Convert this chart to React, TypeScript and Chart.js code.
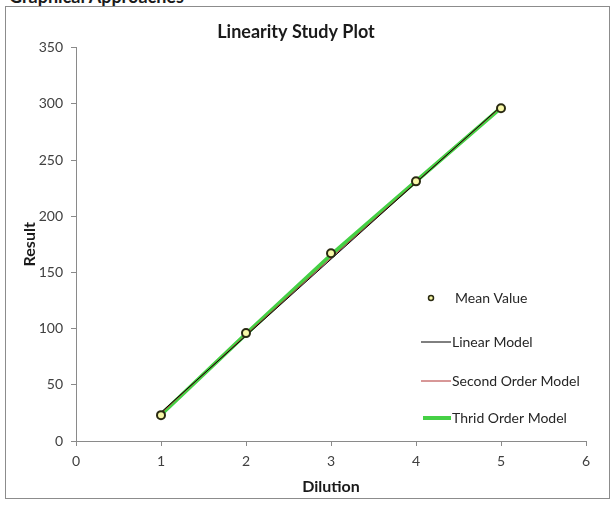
import React, { useEffect, useRef } from "react";
import { Chart, registerables } from "chart.js";

Chart.register(...registerables);

// Dilution levels and measured mean results
const dilution = [1, 2, 3, 4, 5];
const meanValue = [23, 96, 167, 231, 296];

// Fitted model curves evaluated at each dilution level
const linearModel = [25.5, 93.6, 161.7, 229.8, 297.9];
const secondOrderModel = [24.6, 94.4, 162.8, 230.2, 297.3];
const thirdOrderModel = [23.5, 95.2, 165.6, 231.0, 296.4];

const xTicks = [0, 1, 2, 3, 4, 5, 6];
const yTicks = [0, 50, 100, 150, 200, 250, 300, 350];

const legendItems = ["Mean Value", "Linear Model", "Second Order Model", "Thrid Order Model"];

const FONT = "Lato, 'Open Sans', sans-serif";
const GREEN = "#45d045";
const POINT_FILL = "#f8f8a8";
const POINT_EDGE = "#2a2a12";

const toPoints = (ys: number[]) => dilution.map((x, i) => ({ x, y: ys[i] }));

// Legend drawn inside the plot area, right side
const insideLegend = {
  id: "insideLegend",
  afterDraw(chart: Chart) {
    const ctx = chart.ctx;
    const left = 415;
    const rows = [291, 335, 374, 411];
    ctx.save();
    ctx.font = `14px ${FONT}`;
    ctx.textBaseline = "middle";
    ctx.textAlign = "left";
    rows.forEach((y, i) => {
      if (i === 0) {
        ctx.beginPath();
        ctx.arc(left + 10, y, 2.5, 0, Math.PI * 2);
        ctx.fillStyle = POINT_FILL;
        ctx.fill();
        ctx.lineWidth = 1.5;
        ctx.strokeStyle = POINT_EDGE;
        ctx.stroke();
      } else {
        ctx.beginPath();
        ctx.moveTo(left + (i === 3 ? 2 : 0), y);
        ctx.lineTo(left + 30, y);
        ctx.lineWidth = i === 3 ? 4 : 1;
        ctx.strokeStyle = i === 1 ? "#000000" : i === 2 ? "#b03030" : GREEN;
        ctx.stroke();
      }
      ctx.fillStyle = "#262626";
      ctx.fillText(legendItems[i], i === 0 ? left + 34 : left + 31, y);
    });
    ctx.restore();
  },
};

export default function App() {
  const canvasRef = useRef<HTMLCanvasElement | null>(null);

  useEffect(() => {
    if (!canvasRef.current) return;
    const chart = new Chart(canvasRef.current, {
      type: "scatter",
      data: {
        datasets: [
          {
            label: legendItems[0],
            data: toPoints(meanValue),
            backgroundColor: POINT_FILL,
            borderColor: POINT_EDGE,
            borderWidth: 2,
            pointRadius: 4,
            showLine: false,
          },
          {
            label: legendItems[1],
            data: toPoints(linearModel),
            borderColor: "#000000",
            borderWidth: 1,
            pointRadius: 0,
            showLine: true,
          },
          {
            label: legendItems[2],
            data: toPoints(secondOrderModel),
            borderColor: "#b03030",
            borderWidth: 1,
            pointRadius: 0,
            showLine: true,
          },
          {
            label: legendItems[3],
            data: toPoints(thirdOrderModel),
            borderColor: GREEN,
            borderWidth: 4,
            pointRadius: 0,
            showLine: true,
          },
        ],
      },
      options: {
        animation: false,
        responsive: false,
        layout: { padding: { left: 0, right: 22, top: 0, bottom: 0 } },
        plugins: {
          legend: { display: false },
          tooltip: { enabled: false },
          title: {
            display: true,
            text: "Linearity Study Plot",
            color: "#1a1a1a",
            font: { family: FONT, size: 18, weight: "bold" },
            padding: { top: 14, bottom: 5 },
          },
        },
        scales: {
          x: {
            type: "linear",
            min: 0,
            max: 6,
            afterBuildTicks: (s: any) => {
              s.ticks = xTicks.map((v) => ({ value: v }));
            },
            afterFit: (s: any) => {
              s.height = 56;
            },
            ticks: {
              color: "#404040",
              font: { family: FONT, size: 14 },
              padding: 7,
            },
            grid: { drawOnChartArea: false, drawTicks: true, tickLength: 5, color: "#8a8a8a" },
            border: { color: "#8a8a8a" },
            title: {
              display: true,
              text: "Dilution",
              color: "#1a1a1a",
              font: { family: FONT, size: 16, weight: "bold" },
              padding: { top: 0, bottom: 1 },
            },
          },
          y: {
            type: "linear",
            min: 0,
            max: 350,
            afterBuildTicks: (s: any) => {
              s.ticks = yTicks.map((v) => ({ value: v }));
            },
            afterFit: (s: any) => {
              s.width = 70;
            },
            ticks: {
              color: "#404040",
              font: { family: FONT, size: 14 },
              padding: 8,
            },
            grid: { drawOnChartArea: false, drawTicks: true, tickLength: 5, color: "#8a8a8a" },
            border: { color: "#8a8a8a" },
            title: {
              display: true,
              text: "Result",
              color: "#1a1a1a",
              font: { family: FONT, size: 16, weight: "bold" },
              padding: { top: 14, bottom: 0 },
            },
          },
        },
      },
      plugins: [insideLegend],
    });
    return () => chart.destroy();
  }, []);

  return (
    <div
      style={{
        position: "fixed",
        left: 0,
        top: 0,
        width: 613,
        height: 508,
        overflow: "hidden",
        background: "#ffffff",
      }}
    >
      <div
        style={{
          position: "absolute",
          left: 9,
          top: -13,
          fontFamily: FONT,
          fontWeight: "bold",
          fontSize: 18,
          lineHeight: "18px",
          color: "#1a1a1a",
          whiteSpace: "nowrap",
        }}
      >
        Graphical Approaches
      </div>
      <div
        style={{
          position: "absolute",
          left: 5,
          top: 6,
          width: 603,
          height: 491,
          border: "1px solid #8c8c8c",
        }}
      />
      <canvas
        ref={canvasRef}
        width={602}
        height={490}
        style={{ position: "absolute", left: 6, top: 7, width: 602, height: 490 }}
      />
    </div>
  );
}
